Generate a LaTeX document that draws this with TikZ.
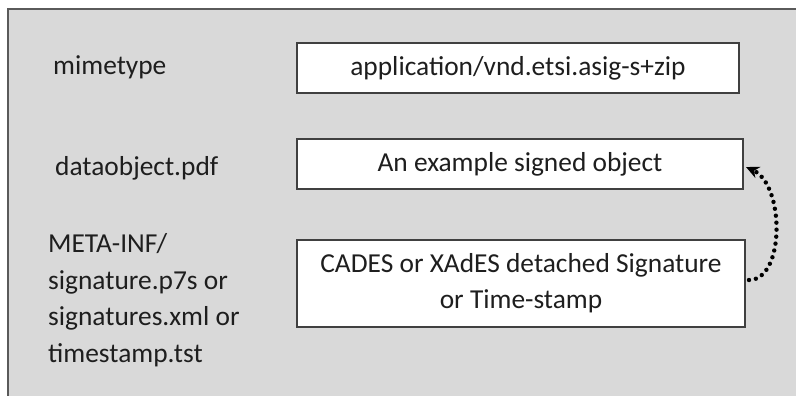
\documentclass[tikz,border=0pt]{standalone}
\usepackage{fontspec}
\setmainfont{Carlito}
\usetikzlibrary{arrows.meta}
\definecolor{panel}{HTML}{D9D9D9}
\definecolor{panelrule}{HTML}{5A5A5A}
\definecolor{boxrule}{HTML}{404040}
\definecolor{ink}{HTML}{1E1E1E}
\begin{document}
\begin{tikzpicture}[x=1bp,y=-1bp,
  every node/.style={font=\fontsize{27.5}{36.5}\selectfont, text=ink, inner sep=0pt},
  entrybox/.style={draw=boxrule, line width=1.4bp, fill=white},
  lefttext/.style={anchor=base west, align=left},
  dotarrow/.style={line width=4.4bp, line cap=round, dash pattern=on 0bp off 7bp,
    -{Stealth[length=13bp,width=12bp]}}]
  \useasboundingbox (0,0) rectangle (796,395);
  \clip (0,0) rectangle (796,395);
  % background panel of the container
  \fill[white] (0,0) rectangle (796,395);
  \draw[panelrule, fill=panel, line width=2bp] (8,9) rectangle (810,410);

  % entry boxes
  \draw[entrybox] (297,43) rectangle (739,93);
  \draw[entrybox] (297,139) rectangle (743,189);
  \draw[entrybox] (297,240) rectangle (745,327);

  \node (mime) at (518,68) {application/vnd.etsi.asig-s+zip};
  \node (obj) at (520,164) {An example signed object};
  \node (sig) at (521,283.5) [align=center] {CADES or XAdES detached Signature\\or Time-stamp};

  % file names on the left
  \node[lefttext] (fmime) at (53,74) {mimetype};
  \node[lefttext] (fobj) at (55,175) {dataobject.pdf};
  \node[lefttext] (fsig) at (48,362) {META-INF/\\signature.p7s or\\signatures.xml or\\timestamp.tst};

  % reference from the signature to the signed object
  \coordinate (from) at (749,280);
  \coordinate (to) at (746,167);
  \draw[dotarrow] (from) .. controls (785,280) and (785,185) .. (to);
\end{tikzpicture}
\end{document}
